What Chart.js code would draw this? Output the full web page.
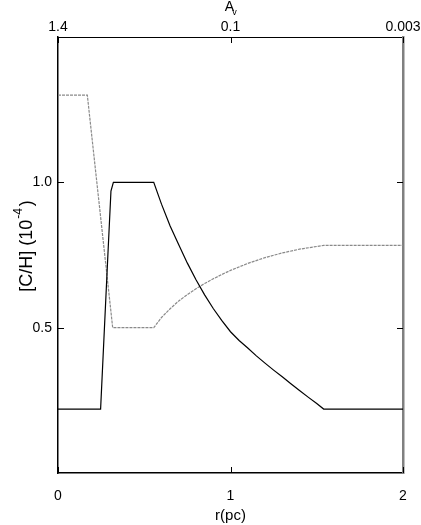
<!DOCTYPE html>
<html>
<head>
<meta charset="utf-8">
<script src="https://cdn.jsdelivr.net/npm/chart.js@4.4.1/dist/chart.umd.min.js"></script>
<style>
  body { margin: 0; background: #fff; }
  canvas { display: block; }
</style>
</head>
<body>
<canvas id="chart" width="421" height="525"></canvas>
<script>
// carbon abundance profiles vs radius
const rSolid = [0, 0.247, 0.29, 0.307, 0.321, 0.555, 0.6, 0.65, 0.7, 0.75, 0.8, 0.85, 0.9, 0.95, 1.0,
  1.05, 1.1, 1.15, 1.2, 1.25, 1.3, 1.35, 1.4, 1.45, 1.5, 1.54, 2.0];
const chSolid = [0.22, 0.22, 0.76, 0.97, 1.0, 1.0, 0.925, 0.85, 0.785, 0.722, 0.665, 0.613, 0.566, 0.524, 0.486,
  0.456, 0.43, 0.403, 0.378, 0.354, 0.331, 0.307, 0.284, 0.261, 0.239, 0.22, 0.22];

const rDash = [0, 0.17, 0.317, 0.555, 0.6, 0.65, 0.7, 0.75, 0.8, 0.85, 0.9, 0.95, 1.0, 1.1, 1.2, 1.3, 1.4, 1.54, 2.0];
const chDash = [1.30, 1.30, 0.50, 0.50, 0.535, 0.565, 0.592, 0.614, 0.634, 0.652, 0.668, 0.683, 0.697, 0.721,
  0.741, 0.757, 0.77, 0.783, 0.783];

const xTicks = [0, 1, 2];
const avLabels = ['1.4', '0.1', '0.003'];
const yTicks = [0.5, 1.0];

const FONT = "'Liberation Sans', Arial, Helvetica, sans-serif";

function pts(xs, ys) {
  return xs.map((x, i) => ({x: x, y: ys[i]}));
}

function noPadX(s, h) {
  s.height = h;
  s.paddingLeft = 0;
  s.paddingRight = 0;
}
function noPadY(s, w) {
  s.width = w;
  s.paddingTop = 0;
  s.paddingBottom = 0;
}

// inward tick marks, top labels and titles
const decor = {
  id: 'decor',
  afterDraw(chart) {
    const ctx = chart.ctx;
    const a = chart.chartArea;
    const sx = chart.scales.x, sy = chart.scales.y;
    const len = 6;
    ctx.save();
    ctx.lineWidth = 1;
    ctx.strokeStyle = '#000';
    xTicks.forEach(v => {
      const px = Math.round(sx.getPixelForValue(v)) + 0.5;
      ctx.beginPath();
      ctx.moveTo(px, a.bottom); ctx.lineTo(px, a.bottom - len);
      ctx.moveTo(px, a.top); ctx.lineTo(px, a.top + len);
      ctx.stroke();
    });
    yTicks.forEach(v => {
      const py = Math.round(sy.getPixelForValue(v)) + 0.5;
      ctx.beginPath();
      ctx.moveTo(a.left, py); ctx.lineTo(a.left + len, py);
      ctx.moveTo(a.right, py); ctx.lineTo(a.right - len, py);
      ctx.stroke();
    });

    ctx.fillStyle = '#000';
    ctx.textAlign = 'center';
    ctx.textBaseline = 'middle';
    const cx = (a.left + a.right) / 2;
    // top axis labels
    ctx.font = '14px ' + FONT;
    xTicks.forEach((v, i) => {
      ctx.fillText(avLabels[i], sx.getPixelForValue(v), 27);
    });
    // bottom title
    ctx.font = '15px ' + FONT;
    ctx.fillText('r(pc)', cx, 516);
    // top title A_v
    ctx.font = '14px ' + FONT;
    ctx.fillText('A', cx - 1, 7);
    ctx.font = '9px ' + FONT;
    ctx.fillText('v', cx + 4, 13);
    // y title [C/H] (10^-4)
    ctx.translate(27, 246);
    ctx.rotate(-Math.PI / 2);
    ctx.textAlign = 'left';
    ctx.font = '18px ' + FONT;
    const t1 = '[C/H] (10';
    const w1 = ctx.measureText(t1).width;
    ctx.font = '12px ' + FONT;
    const t2 = '-4';
    const w2 = ctx.measureText(t2).width;
    ctx.font = '18px ' + FONT;
    const w3 = ctx.measureText(')').width;
    let x0 = -(w1 + w2 + w3 + 3) / 2;
    ctx.fillText(t1, x0, 0);
    ctx.font = '12px ' + FONT;
    ctx.fillText(t2, x0 + w1 + 1, -8);
    ctx.font = '18px ' + FONT;
    ctx.fillText(')', x0 + w1 + w2 + 3, 0);
    ctx.restore();
  }
};

new Chart(document.getElementById('chart'), {
  type: 'scatter',
  data: {
    datasets: [{
      label: 'solid',
      data: pts(rSolid, chSolid),
      showLine: true,
      borderColor: '#000',
      borderWidth: 1.2,
      pointRadius: 0,
      tension: 0
    }, {
      label: 'dashed',
      data: pts(rDash, chDash),
      showLine: true,
      borderColor: '#8a8a8a',
      borderWidth: 1.2,
      borderDash: [3, 1],
      pointRadius: 0,
      tension: 0
    }]
  },
  options: {
    responsive: false,
    animation: false,
    layout: { padding: 0 },
    plugins: {
      legend: { display: false },
      tooltip: { enabled: false }
    },
    scales: {
      x: {
        type: 'linear', position: 'bottom', min: 0, max: 2,
        afterBuildTicks: s => { s.ticks = xTicks.map(v => ({value: v})); },
        afterFit: s => noPadX(s, 52),
        grid: { drawOnChartArea: false, drawTicks: false },
        border: { color: '#000', width: 1.5 },
        ticks: { color: '#000', padding: 15, font: { family: FONT, size: 14 }, maxRotation: 0,
          callback: v => String(v) }
      },
      x2: {
        type: 'linear', position: 'top', min: 0, max: 2,
        afterFit: s => noPadX(s, 37),
        grid: { drawOnChartArea: false, drawTicks: false },
        border: { color: '#000', width: 1 },
        ticks: { display: false }
      },
      y: {
        type: 'linear', position: 'left', min: 0, max: 1.5,
        afterBuildTicks: s => { s.ticks = yTicks.map(v => ({value: v})); },
        afterFit: s => noPadY(s, 58),
        grid: { drawOnChartArea: false, drawTicks: false },
        border: { color: '#000', width: 1.5 },
        ticks: { color: '#000', padding: 6, font: { family: FONT, size: 14 },
          callback: v => v.toFixed(1) }
      },
      y2: {
        type: 'linear', position: 'right', min: 0, max: 1.5,
        afterFit: s => noPadY(s, 18),
        grid: { drawOnChartArea: false, drawTicks: false },
        border: { color: '#808080', width: 2.5 },
        ticks: { display: false }
      }
    }
  },
  plugins: [decor]
});
</script>
</body>
</html>
